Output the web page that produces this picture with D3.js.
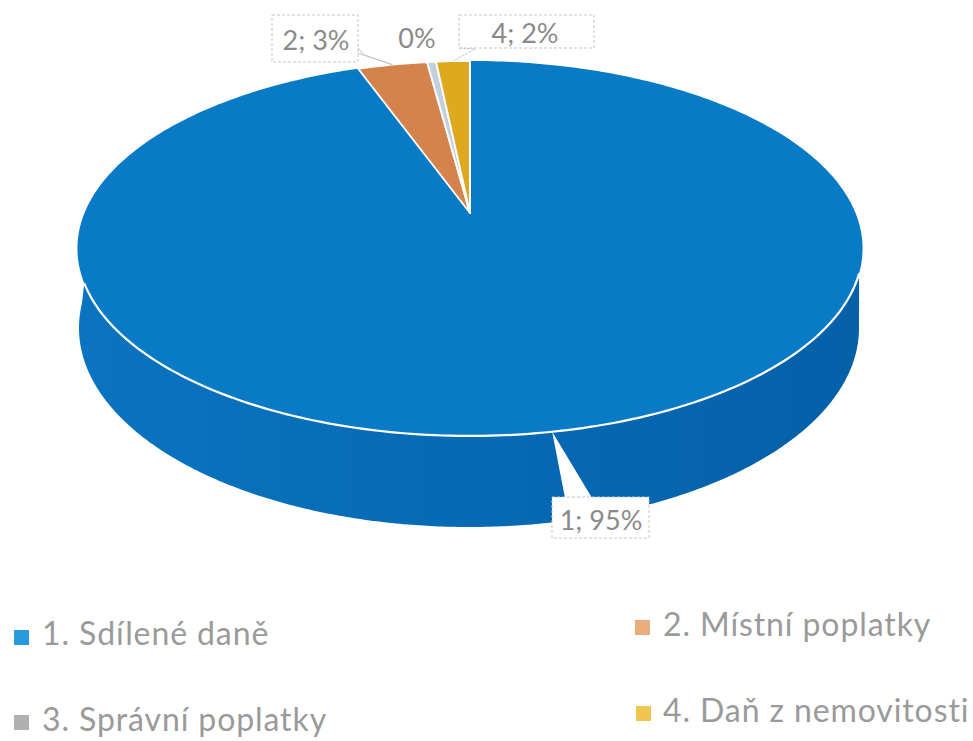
<!DOCTYPE html>
<html><head><meta charset="utf-8">
<script src="https://cdn.jsdelivr.net/npm/d3@7/dist/d3.min.js"></script>
<style>html,body{margin:0;background:#fff}svg{display:block}text{font-family:Lato,"Open Sans",sans-serif}</style>
</head><body><svg id="c" width="973" height="741"></svg>
<script>
const categories=["1. Sdílené daně","2. Místní poplatky","3. Správní poplatky","4. Daň z nemovitosti"];
const values=[94.45,3.44,0.44,1.67];
const sliceLabels=["1; 95%","2; 3%","0%","4; 2%"];
const sliceColors=["#097bc6","#d5834c","#c5cfdc","#dfa91f"];
const legendColors=["#2a9ade","#e7ad7a","#b0b0b0","#f0c64e"];

const svg=d3.select("#c");
const TAU=Math.PI*2;
// Perspective projection of the pie disc
const apex=[470,213],W=385.5,H=180.8,K=0.189;
const proj=a=>{const d=1+K*Math.cos(a);return [apex[0]+W*Math.sin(a)/d,apex[1]-H*Math.cos(a)/d];};
const sample=(a0,a1)=>d3.range(0,1.0001,1/Math.max(2,Math.ceil(Math.abs(a1-a0)*60))).map(t=>proj(a0+(a1-a0)*t));
const line=d3.line();

const arcs=d3.pie().sort(null)(values);

// Side wall
const defs=svg.append("defs");
const g=defs.append("linearGradient").attr("id","side").attr("x1","0").attr("x2","1");
g.append("stop").attr("offset","0").attr("stop-color","#0a74c0");
g.append("stop").attr("offset","0.45").attr("stop-color","#066bb6");
g.append("stop").attr("offset","1").attr("stop-color","#0560a8");
const bottom=d3.range(0,TAU+0.01,0.01).map(a=>[469+390*Math.sin(a),328-199*Math.cos(a)]);
const wallLeft=proj(248.8*Math.PI/180),wallRight=proj(108.3*Math.PI/180);
svg.append("path").attr("d",line(bottom)+"Z").attr("fill","url(#side)");
svg.append("path").attr("d",line([wallLeft,[79,330],[859,330],wallRight])+"Z").attr("fill","url(#side)");

// Top face slices
svg.append("g").selectAll("path").data(arcs).join("path")
  .attr("d",d=>line([apex,...sample(d.startAngle,d.endAngle)])+"Z")
  .attr("fill",(d,i)=>sliceColors[i])
  .attr("stroke","#fff").attr("stroke-width",(d,i)=>i===0?0:1.9).attr("stroke-linejoin","round");

// Bright front rim
svg.append("path").attr("d",line(sample(108.3*Math.PI/180,248.8*Math.PI/180)))
  .attr("fill","none").attr("stroke","#fff").attr("stroke-width",2.2);

// Data labels
const labelBoxes=[
 {x:552,y:497,w:97,h:41,tx:601,ty:530},
 {x:272,y:15,w:86,h:47,tx:316,ty:50},
 {x:null,tx:417,ty:48},
 {x:459,y:15,w:135,h:33,tx:525,ty:43}];
const mid=arcs.map(d=>(d.startAngle+d.endAngle)/2);
// callout wedge for the largest slice
const tip0=proj(mid[0]);
svg.append("path").attr("d",line([tip0,[592,498],[565,498]])+"Z").attr("fill","#fff");
svg.append("rect").attr("x",552).attr("y",497).attr("width",97).attr("height",41).attr("fill","#fff");
// leader lines
const tip1=proj(mid[1]);
svg.append("path").attr("d",line([[358,48],[364,55],tip1,[358,53]])).attr("fill","#fff").attr("stroke","#c4c4c4").attr("stroke-width",1);
const tip3=proj(mid[3]);
svg.append("path").attr("d",line([[459,48],[475,49],tip3])).attr("fill","none").attr("stroke","#c8c8c8").attr("stroke-width",1).attr("stroke-dasharray","3 1");
svg.append("g").selectAll("path").data(labelBoxes.filter(b=>b.x!==null)).join("path")
  .attr("d",b=>`M${b.x},${b.y}H${b.x+b.w}V${b.y+b.h}H${b.x}Z`)
  .attr("fill","none").attr("stroke","#c6c6c6").attr("stroke-width",1).attr("stroke-dasharray","3 2");
svg.append("g").selectAll("text").data(sliceLabels).join("text")
  .attr("x",(d,i)=>labelBoxes[i].tx).attr("y",(d,i)=>labelBoxes[i].ty)
  .attr("text-anchor","middle").attr("font-size",27).attr("fill","#8a8a8a").text(d=>d);

// Legend
const legendPos=[{x:14,y:630,tx:42,ty:645},{x:635,y:620,tx:663,ty:636},{x:14,y:715,tx:42,ty:731},{x:636,y:706,tx:663,ty:722}];
const lg=svg.append("g").selectAll("g").data(categories).join("g");
lg.append("rect").attr("x",(d,i)=>legendPos[i].x).attr("y",(d,i)=>legendPos[i].y)
  .attr("width",15).attr("height",15).attr("fill",(d,i)=>legendColors[i]);
lg.append("text").attr("x",(d,i)=>legendPos[i].tx).attr("y",(d,i)=>legendPos[i].ty)
  .attr("font-size",32).attr("fill","#9a9a9a").attr("letter-spacing",0.9).text(d=>d);
</script></body></html>
